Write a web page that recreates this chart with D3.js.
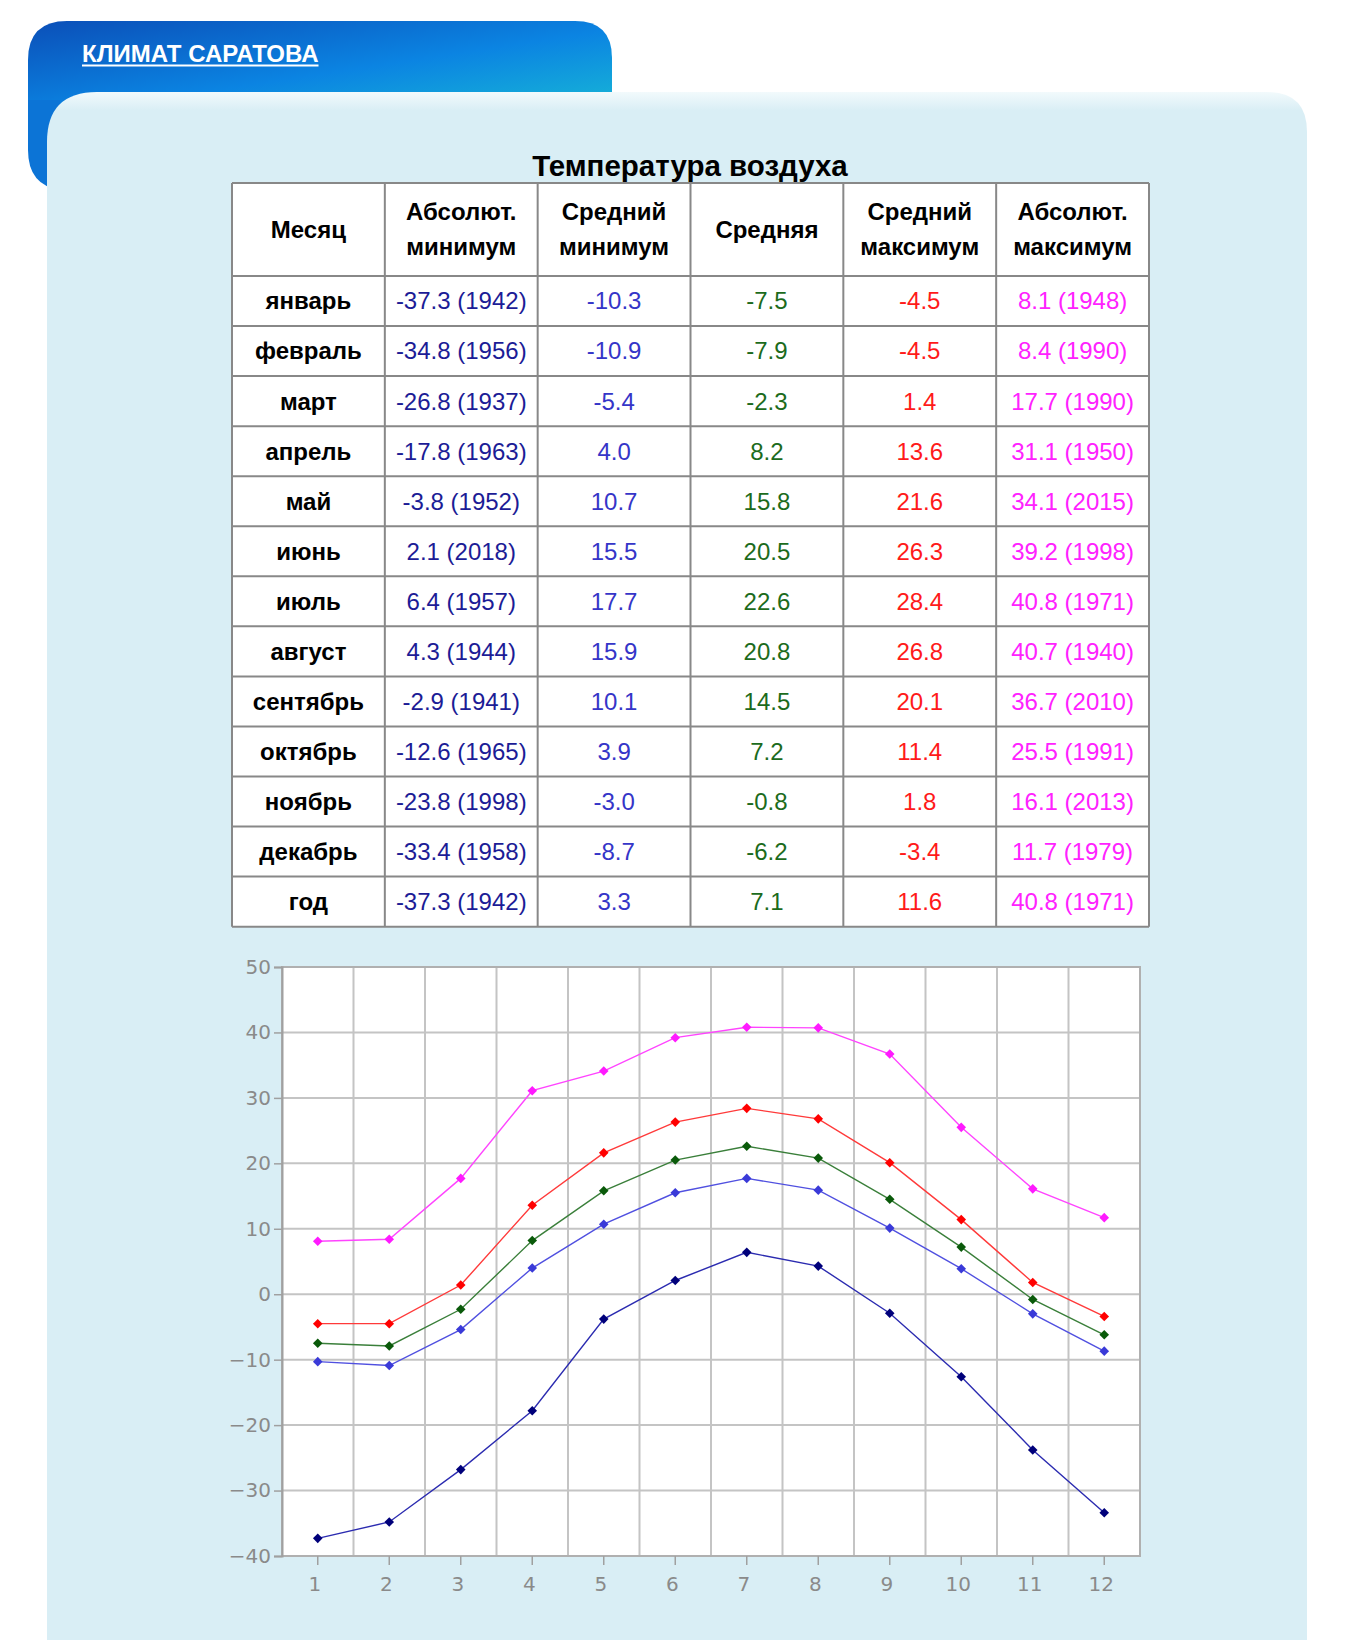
<!DOCTYPE html>
<html><head><meta charset="utf-8">
<script src="https://cdn.jsdelivr.net/npm/d3@7"></script>
<style>
html,body{margin:0;padding:0;background:#fff;}
svg{display:block;}
</style></head>
<body>
<svg id="c" width="1348" height="1640"></svg>
<script>
// ---- data ----
const monthNames = ["январь","февраль","март","апрель","май","июнь","июль","август","сентябрь","октябрь","ноябрь","декабрь"];
const monthNums = [1,2,3,4,5,6,7,8,9,10,11,12];
const absMin = [-37.3,-34.8,-26.8,-17.8,-3.8,2.1,6.4,4.3,-2.9,-12.6,-23.8,-33.4];
const absMinYears = [1942,1956,1937,1963,1952,2018,1957,1944,1941,1965,1998,1958];
const avgMin = [-10.3,-10.9,-5.4,4.0,10.7,15.5,17.7,15.9,10.1,3.9,-3.0,-8.7];
const avgMean = [-7.5,-7.9,-2.3,8.2,15.8,20.5,22.6,20.8,14.5,7.2,-0.8,-6.2];
const avgMax = [-4.5,-4.5,1.4,13.6,21.6,26.3,28.4,26.8,20.1,11.4,1.8,-3.4];
const absMax = [8.1,8.4,17.7,31.1,34.1,39.2,40.8,40.7,36.7,25.5,16.1,11.7];
const absMaxYears = [1948,1990,1990,1950,2015,1998,1971,1940,2010,1991,2013,1979];
const yearRow = {label:"год", absMin:-37.3, absMinYear:1942, avgMin:3.3, avgMean:7.1, avgMax:11.6, absMax:40.8, absMaxYear:1971};
const headers = [["Месяц"],["Абсолют.","минимум"],["Средний","минимум"],["Средняя"],["Средний","максимум"],["Абсолют.","максимум"]];
const yTicks = [-40,-30,-20,-10,0,10,20,30,40,50];
const pageTitle = "КЛИМАТ САРАТОВА";
const tableTitle = "Температура воздуха";

const svg = d3.select("#c");
const defs = svg.append("defs");
const g1 = defs.append("linearGradient").attr("id","tabg").attr("x1","0").attr("y1","0").attr("x2","1").attr("y2","1");
g1.append("stop").attr("offset","0").attr("stop-color","#0b4fb8");
g1.append("stop").attr("offset","0.55").attr("stop-color","#0b84e2");
g1.append("stop").attr("offset","1").attr("stop-color","#17b6d6");
const g2 = defs.append("linearGradient").attr("id","pang").attr("x1","0").attr("y1","0").attr("x2","0").attr("y2","1");
g2.append("stop").attr("offset","0").attr("stop-color","#f2fafc");
g2.append("stop").attr("offset","0.012").attr("stop-color","#d9eef5");
g2.append("stop").attr("offset","1").attr("stop-color","#d9eef5");

// ---- tab ----
svg.append("path")
  .attr("d","M28,60 Q28,21 67,21 L575,21 Q612,21 612,58 L612,110 L28,110 Z")
  .attr("fill","url(#tabg)");
svg.append("path")
  .attr("d","M28,100 L60,100 L60,190 Q28,185 28,150 Z")
  .attr("fill","#0c74d6");
const tt = svg.append("text").attr("x",82).attr("y",62)
  .attr("font-family","'Liberation Sans',Arial,sans-serif").attr("font-weight","bold")
  .attr("font-size",24).attr("fill","#fff").text(pageTitle);
const ttw = tt.node().getComputedTextLength();
svg.append("line").attr("x1",82).attr("x2",82+ttw).attr("y1",65.5).attr("y2",65.5)
  .attr("stroke","#fff").attr("stroke-width",2);

// ---- panel ----
svg.append("path")
  .attr("d","M47,142 Q47,92 97,92 L1267,92 Q1307,92 1307,132 L1307,1640 L47,1640 Z")
  .attr("fill","url(#pang)");

// ---- table ----
svg.append("text").attr("x",690).attr("y",176).attr("text-anchor","middle")
  .attr("font-family","'Liberation Sans',Arial,sans-serif").attr("font-weight","bold")
  .attr("font-size",29.5).attr("fill","#000").text(tableTitle);

const colX = d3.scaleBand().domain(d3.range(6)).range([232,1149]);
const rowsData = monthNames.map((m,i)=>({label:m, absMin:absMin[i], absMinYear:absMinYears[i], avgMin:avgMin[i], avgMean:avgMean[i], avgMax:avgMax[i], absMax:absMax[i], absMaxYear:absMaxYears[i]}));
rowsData.push(yearRow);
const headerTop = 183, headerH = 93, rowH = 50.05;
const rowY = d3.scaleLinear().domain([0,13]).range([headerTop+headerH, headerTop+headerH+13*rowH]);
const f1 = d3.format(".1f");
const fmt = v => f1(v).replace("−","-");
const colColors = ["#000","#1c1c96","#3535c8","#1c6b1c","#ff1a1a","#ff22ff"];

const tbl = svg.append("g");
tbl.append("rect").attr("x",232).attr("y",headerTop).attr("width",1149-232).attr("height",headerH+13*rowH).attr("fill","#fff");
headers.forEach((h,ci)=>{
  const cx = colX(ci)+colX.bandwidth()/2;
  const cy = headerTop+headerH/2;
  h.forEach((ln,li)=>{
    const dy = h.length===1 ? 0 : (li===0?-17.5:17.5);
    tbl.append("text").attr("x",cx).attr("y",cy+dy).attr("dy","0.35em").attr("text-anchor","middle")
      .attr("font-family","'Liberation Sans',Arial,sans-serif").attr("font-weight","bold").attr("font-size",24)
      .attr("fill","#000").text(ln);
  });
});
rowsData.forEach((r,ri)=>{
  const cells = [r.label, fmt(r.absMin)+" ("+r.absMinYear+")", fmt(r.avgMin), fmt(r.avgMean), fmt(r.avgMax), fmt(r.absMax)+" ("+r.absMaxYear+")"];
  const cy = rowY(ri)+rowH/2;
  cells.forEach((t,ci)=>{
    tbl.append("text").attr("x",colX(ci)+colX.bandwidth()/2).attr("y",cy).attr("dy","0.35em").attr("text-anchor","middle")
      .attr("font-family","'Liberation Sans',Arial,sans-serif").attr("font-weight",ci===0?"bold":"normal")
      .attr("font-size",24).attr("fill",colColors[ci]).text(t);
  });
});
const tblBottom = headerTop+headerH+13*rowH;
d3.range(7).forEach(i=>{
  const x = i<6 ? colX(i) : 1149;
  tbl.append("line").attr("x1",x).attr("x2",x).attr("y1",headerTop).attr("y2",tblBottom).attr("stroke","#888").attr("stroke-width",2);
});
tbl.append("line").attr("x1",232).attr("x2",1149).attr("y1",headerTop).attr("y2",headerTop).attr("stroke","#888").attr("stroke-width",2);
d3.range(14).forEach(i=>{
  tbl.append("line").attr("x1",232).attr("x2",1149).attr("y1",rowY(i)).attr("y2",rowY(i)).attr("stroke","#888").attr("stroke-width",2);
});

// ---- chart ----
const L=282, R=1140, T=967, B=1556;
const x = d3.scaleBand().domain(monthNums).range([L,R]);
const y = d3.scaleLinear().domain([-40,50]).range([B,T]);
const ch = svg.append("g");
ch.append("rect").attr("x",L).attr("y",T).attr("width",R-L).attr("height",B-T).attr("fill","#fff");
monthNums.slice(1).forEach(m=>{
  ch.append("line").attr("x1",x(m)).attr("x2",x(m)).attr("y1",T).attr("y2",B).attr("stroke","#c4c4c4").attr("stroke-width",2);
});
yTicks.forEach(t=>{
  ch.append("line").attr("x1",L).attr("x2",R).attr("y1",y(t)).attr("y2",y(t)).attr("stroke","#c4c4c4").attr("stroke-width",2);
});
ch.append("rect").attr("x",L).attr("y",T).attr("width",R-L).attr("height",B-T).attr("fill","none").attr("stroke","#b0b0b0").attr("stroke-width",2);

const yAxis = d3.axisLeft(y).tickValues(yTicks).tickSize(8).tickPadding(3);
const ya = ch.append("g").attr("transform",`translate(${L},0)`).call(yAxis);
ya.select(".domain").attr("stroke","#a0a0a0").attr("stroke-width",2);
ya.selectAll(".tick line").attr("stroke","#a0a0a0").attr("stroke-width",1.5);
ya.selectAll(".tick text").attr("fill","#8a8a8a").attr("font-family","'DejaVu Sans',Verdana,sans-serif").attr("font-size",20);

const xAxis = d3.axisBottom(x).tickSize(9).tickPadding(12);
const xa = ch.append("g").attr("transform",`translate(0,${B})`).call(xAxis);
xa.select(".domain").remove();
xa.selectAll(".tick line").attr("stroke","#a0a0a0").attr("stroke-width",1.5);
xa.selectAll(".tick text").attr("fill","#8a8a8a").attr("font-family","'DejaVu Sans',Verdana,sans-serif").attr("font-size",20).attr("dx",-3);

const series = [
  {vals:absMax, line:"#ff44ff", mark:"#ff1aff"},
  {vals:avgMax, line:"#ff3a3a", mark:"#ff0000"},
  {vals:avgMean, line:"#3a7f3a", mark:"#0a5a0a"},
  {vals:avgMin, line:"#5050e0", mark:"#3a3ad8"},
  {vals:absMin, line:"#2b2bb0", mark:"#00007a"}
];
const cx = m => x(m)+x.bandwidth()/2;
const lineGen = d3.line().x((d,i)=>cx(monthNums[i])).y(d=>y(d));
const sym = d3.symbol().type(d3.symbolSquare).size(46);
series.forEach(s=>{
  ch.append("path").attr("d",lineGen(s.vals)).attr("fill","none").attr("stroke",s.line).attr("stroke-width",1.4);
  ch.selectAll(null).data(s.vals).enter().append("path")
    .attr("d",sym).attr("transform",(d,i)=>`translate(${cx(monthNums[i])},${y(d)}) rotate(45)`)
    .attr("fill",s.mark);
});
</script>
</body></html>
